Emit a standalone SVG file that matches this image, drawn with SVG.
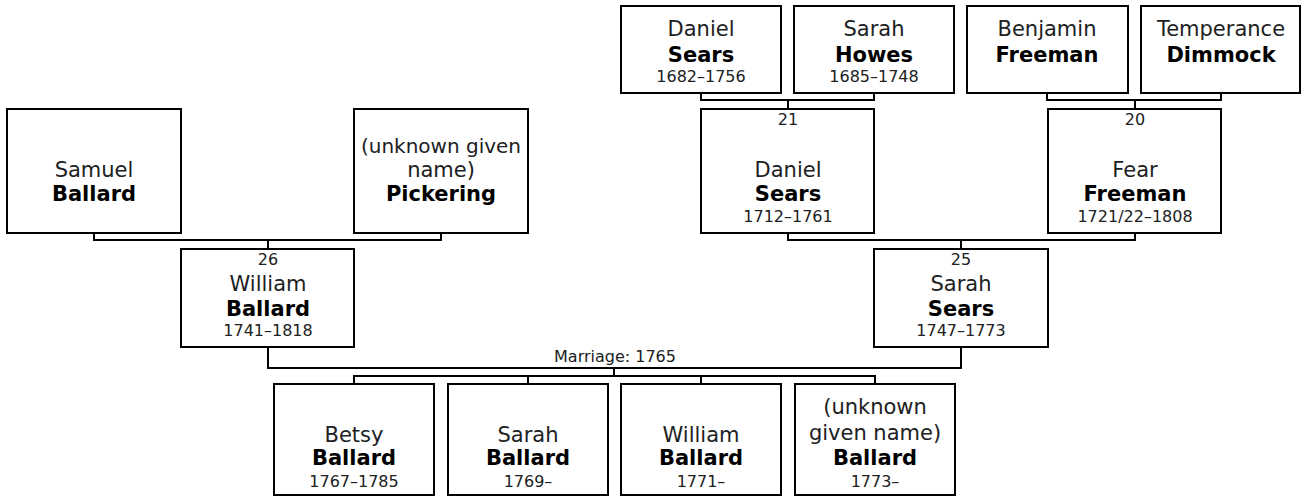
<svg xmlns="http://www.w3.org/2000/svg" width="1306" height="496" viewBox="0 0 1306 496">
<style>
.box{fill:#fff;stroke:#000;stroke-width:2}
.con{fill:none;stroke:#000;stroke-width:2}
text{font-family:"DejaVu Sans",Verdana,sans-serif;text-anchor:middle;fill:#000}
.n{font-size:21px;fill:#202122}
.s{font-size:21px;font-weight:bold}
.d{font-size:16px;fill:#202122}
.l{font-size:16px;fill:#202122}
</style>
<rect width="1306" height="496" fill="#fff"/>
<g id="connectors">
<path class="con" d="M701,93 V100 H874 V93 M788,100 V109"/>
<path class="con" d="M1047,93 V100 H1221 V93 M1135,100 V109"/>
<path class="con" d="M94,233 V240 H441 V233 M268,240 V249"/>
<path class="con" d="M788,233 V240 H1135 V233 M961,240 V249"/>
<path class="con" d="M268,347 V368 H961 V347 M614,368 V376"/>
<path class="con" d="M354,384 V376 H875 V384 M528,376 V384 M701,376 V384"/>
<text class="l" x="615" y="362">Marriage: 1765</text>
</g>
<g id="daniel-sears-1682">
<rect class="box" x="621" y="6" width="160" height="87"/>
<text class="n" x="701" y="36">Daniel</text>
<text class="s" x="701" y="62">Sears</text>
<text class="d" x="701" y="82">1682–1756</text>
</g>
<g id="sarah-howes">
<rect class="box" x="794" y="6" width="160" height="87"/>
<text class="n" x="874" y="36">Sarah</text>
<text class="s" x="874" y="62">Howes</text>
<text class="d" x="874" y="82">1685–1748</text>
</g>
<g id="benjamin-freeman">
<rect class="box" x="967" y="6" width="161" height="87"/>
<text class="n" x="1047" y="36">Benjamin</text>
<text class="s" x="1047" y="62">Freeman</text>
</g>
<g id="temperance-dimmock">
<rect class="box" x="1141" y="6" width="159" height="87"/>
<text class="n" x="1221" y="36">Temperance</text>
<text class="s" x="1221" y="62">Dimmock</text>
</g>
<g id="samuel-ballard">
<rect class="box" x="7" y="109" width="174" height="124"/>
<text class="n" x="94" y="177">Samuel</text>
<text class="s" x="94" y="201">Ballard</text>
</g>
<g id="pickering">
<rect class="box" x="354" y="109" width="174" height="124"/>
<text class="n" x="441" y="153" style="font-size:20px">(unknown given</text>
<text class="n" x="441" y="177">name)</text>
<text class="s" x="441" y="201">Pickering</text>
</g>
<g id="daniel-sears-1712">
<rect class="box" x="701" y="109" width="173" height="124"/>
<text class="l" x="788" y="125">21</text>
<text class="n" x="788" y="177">Daniel</text>
<text class="s" x="788" y="201">Sears</text>
<text class="d" x="788" y="222">1712–1761</text>
</g>
<g id="fear-freeman">
<rect class="box" x="1048" y="109" width="173" height="124"/>
<text class="l" x="1135" y="125">20</text>
<text class="n" x="1135" y="177">Fear</text>
<text class="s" x="1135" y="201">Freeman</text>
<text class="d" x="1135" y="222">1721/22–1808</text>
</g>
<g id="william-ballard-1741">
<rect class="box" x="181" y="249" width="173" height="98"/>
<text class="l" x="268" y="265">26</text>
<text class="n" x="268" y="291">William</text>
<text class="s" x="268" y="316">Ballard</text>
<text class="d" x="268" y="336">1741–1818</text>
</g>
<g id="sarah-sears">
<rect class="box" x="874" y="249" width="174" height="98"/>
<text class="l" x="961" y="265">25</text>
<text class="n" x="961" y="291">Sarah</text>
<text class="s" x="961" y="316">Sears</text>
<text class="d" x="961" y="336">1747–1773</text>
</g>
<g id="betsy-ballard">
<rect class="box" x="274" y="384" width="160" height="111"/>
<text class="n" x="354" y="442">Betsy</text>
<text class="s" x="354" y="465">Ballard</text>
<text class="d" x="354" y="487">1767–1785</text>
</g>
<g id="sarah-ballard">
<rect class="box" x="448" y="384" width="160" height="111"/>
<text class="n" x="528" y="442">Sarah</text>
<text class="s" x="528" y="465">Ballard</text>
<text class="d" x="528" y="487">1769–</text>
</g>
<g id="william-ballard-1771">
<rect class="box" x="621" y="384" width="160" height="111"/>
<text class="n" x="701" y="442">William</text>
<text class="s" x="701" y="465">Ballard</text>
<text class="d" x="701" y="487">1771–</text>
</g>
<g id="unknown-ballard">
<rect class="box" x="795" y="384" width="160" height="111"/>
<text class="n" x="875" y="414">(unknown</text>
<text class="n" x="875" y="440">given name)</text>
<text class="s" x="875" y="465">Ballard</text>
<text class="d" x="875" y="487">1773–</text>
</g>
</svg>
